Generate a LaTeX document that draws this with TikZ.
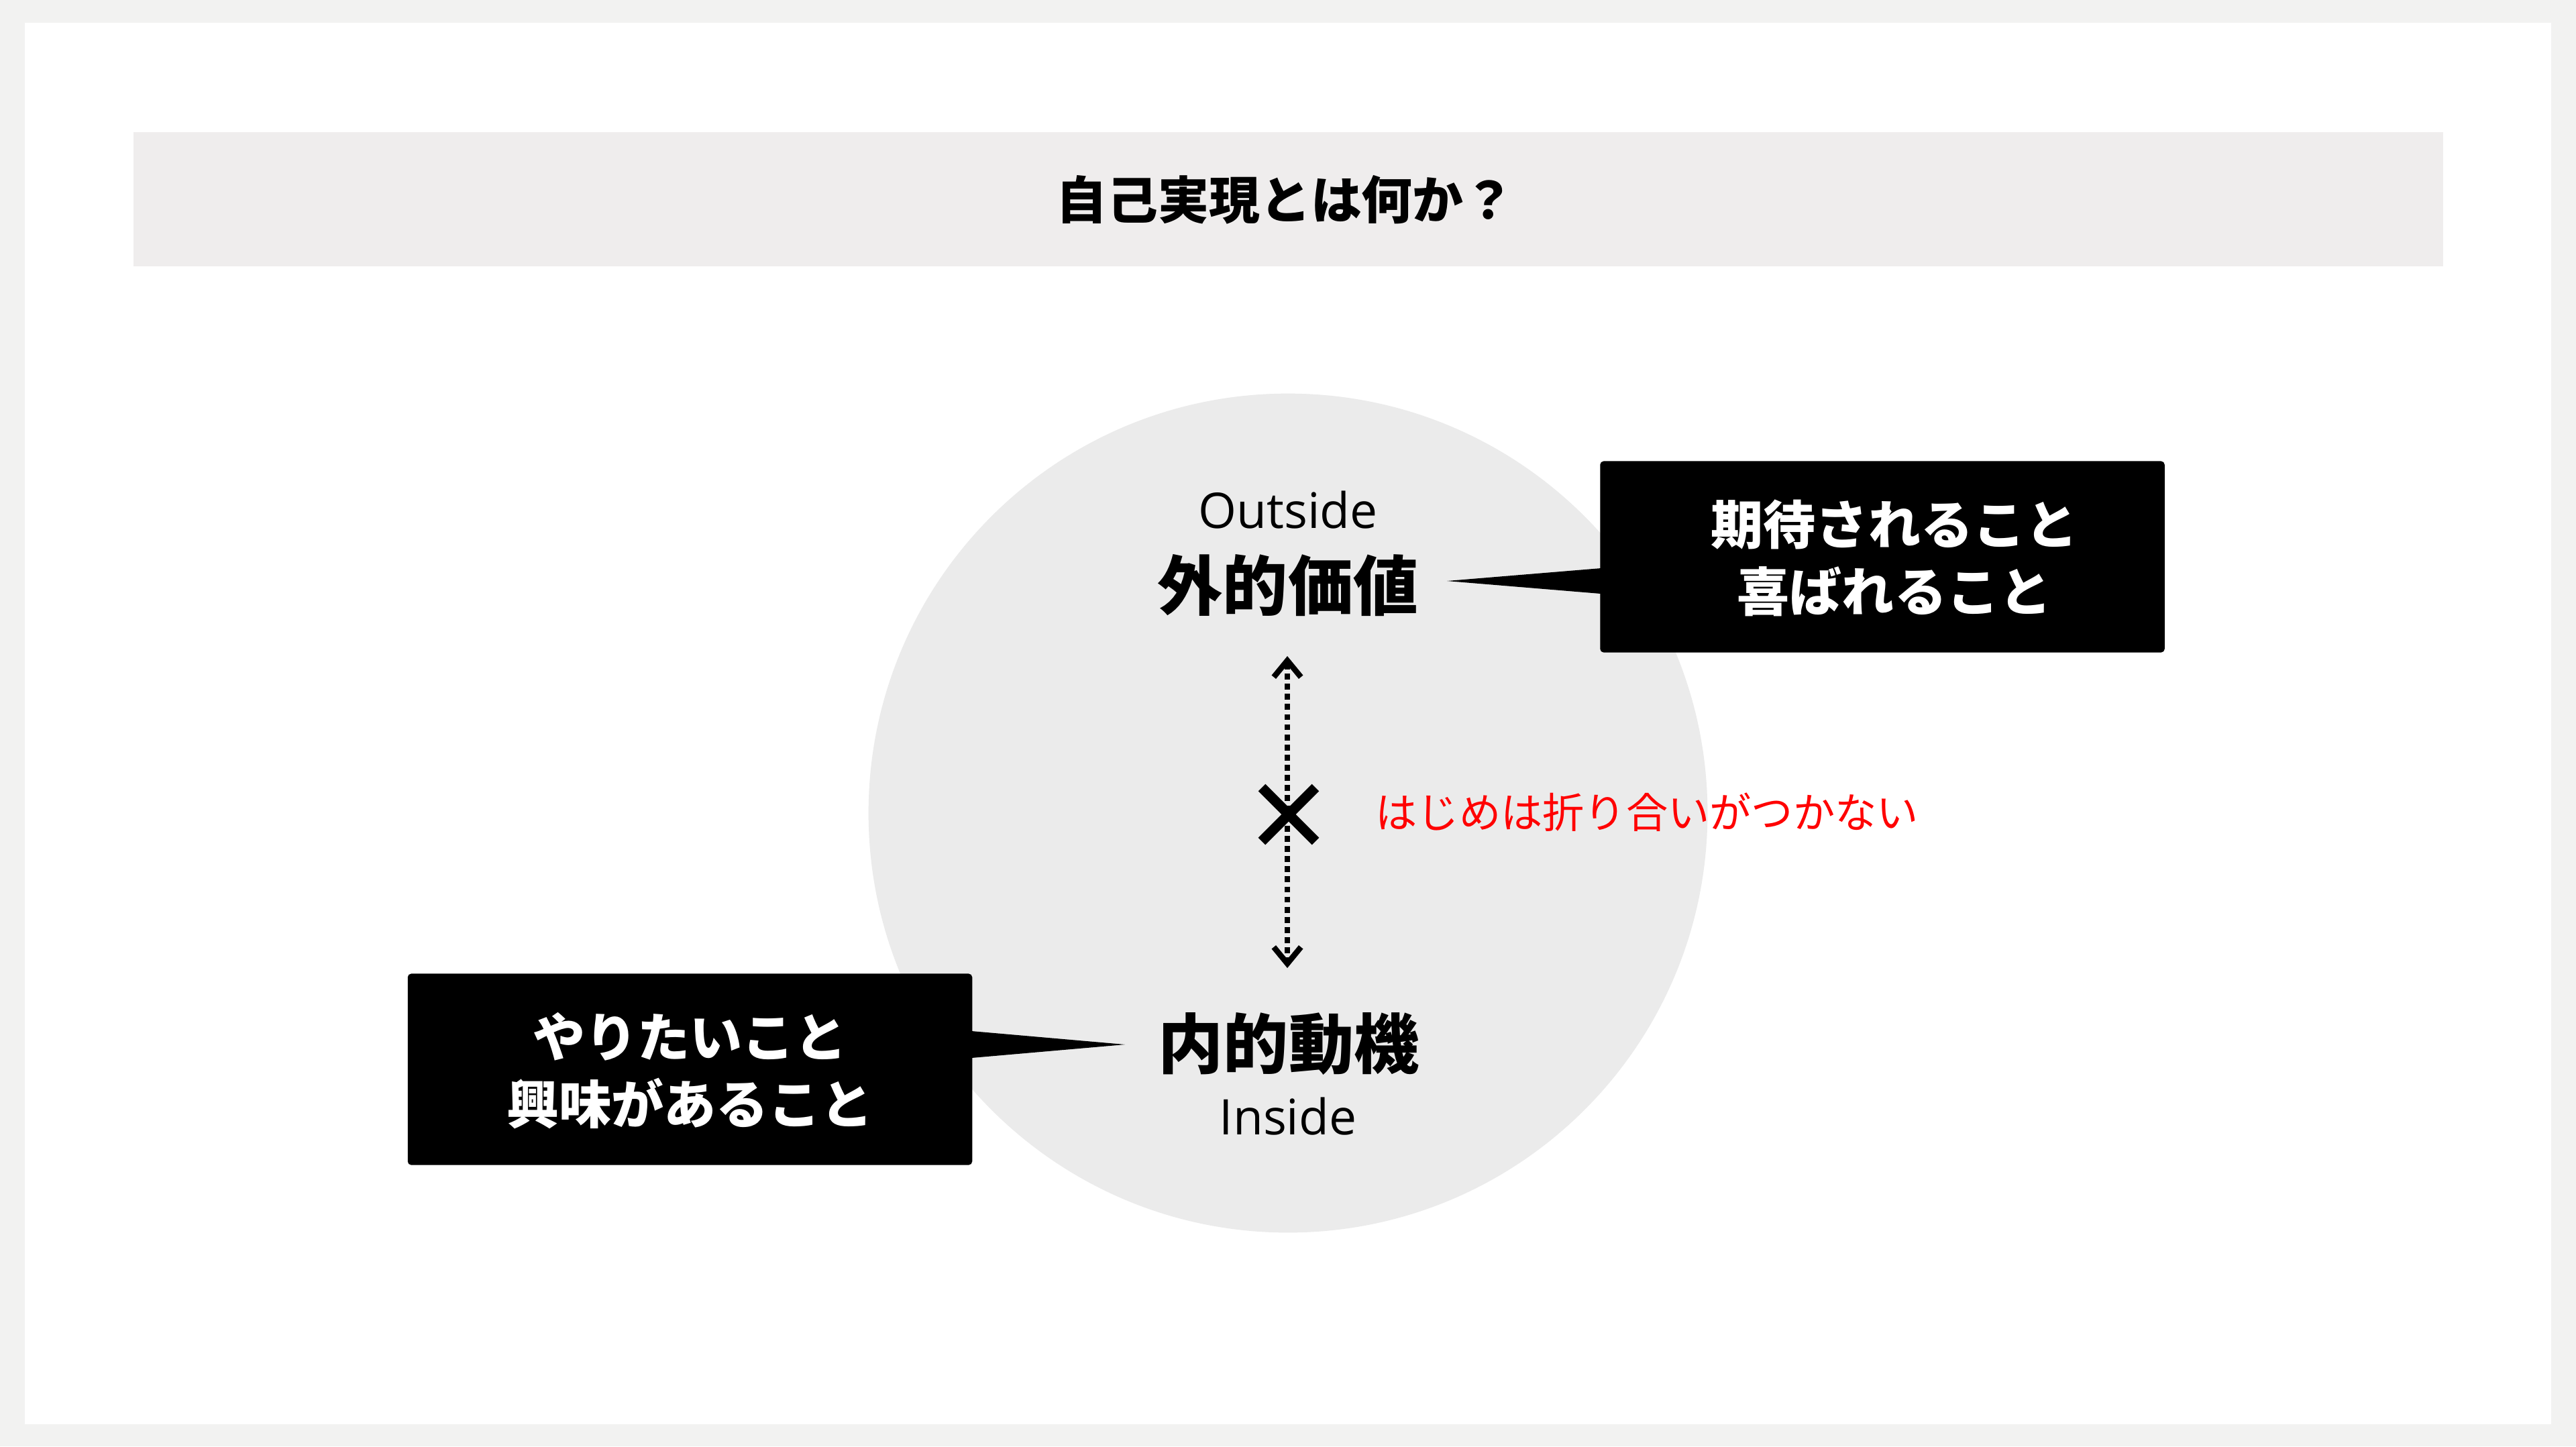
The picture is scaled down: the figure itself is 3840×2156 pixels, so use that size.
\documentclass[tikz,border=0pt]{standalone}
\usepackage{fontspec}
\setmainfont{Noto Sans CJK JP}
\newfontfamily\latinfont{Open Sans}
\usetikzlibrary{arrows.meta}
\definecolor{outerbg}{HTML}{F2F2F1}
\definecolor{titlebg}{HTML}{EFEDED}
\definecolor{circlebg}{HTML}{EBEBEB}
\definecolor{redtext}{HTML}{FF0000}
\begin{document}
\begin{tikzpicture}[x=0.01cm,y=-0.01cm,
  callout/.style={fill=black, rounded corners=1.5pt, inner sep=0pt, minimum width=8.41cm, minimum height=2.85cm},
  callouttext/.style={text=white, font=\bfseries\fontsize{22.2}{28.5}\selectfont, align=center, inner sep=0pt},
  mainlabel/.style={font=\bfseries\fontsize{27.6}{32}\selectfont, inner sep=0pt},
  sublabel/.style={font=\latinfont\fontsize{20.8}{24}\selectfont, inner sep=0pt},
  conflict/.style={line width=2.4pt, dash pattern=on 2.5pt off 1.8pt, {Straight Barb[length=7pt,width=11.5pt]}-{Straight Barb[length=7pt,width=11.5pt]}},
  crossline/.style={line width=4.27pt}
]
\useasboundingbox (0,0) rectangle (3840,2156);
\fill[outerbg] (0,0) rectangle (3840,2156);
\fill[white] (37,34) rectangle (3803,2123);
\node[fill=titlebg, minimum width=34.41cm, minimum height=2cm, inner sep=0pt] (titlebar) at (1920.5,297) {};
\node[font=\bfseries\fontsize{21.6}{26}\selectfont, inner sep=0pt] (title) at (1916,298) {自己実現とは何か？};
\fill[circlebg] (1920,1212) circle[radius=6.25cm];
\node[sublabel] (outside) at (1920,760) {Outside};
\node[mainlabel] (outer) at (1920,873) {外的価値};
\node[mainlabel] (inner) at (1921,1556) {内的動機};
\node[sublabel] (inside) at (1920,1664) {Inside};
\node[callout] (expect) at (2806,830) {};
\node[callouttext] (expecttext) at (2824,832) {期待されること\\喜ばれること};
\node[callout] (want) at (1028.5,1594) {};
\node[callouttext] (wanttext) at (1028.5,1596) {やりたいこと\\興味があること};
\coordinate (ptipA) at (2157,866);
\fill (ptipA) -- ([xshift=0.02cm,yshift=-0.17cm]expect.west) -- ([xshift=0.02cm,yshift=-0.55cm]expect.west) -- cycle;
\coordinate (ptipB) at (1677,1557);
\fill (ptipB) -- ([xshift=-0.02cm,yshift=0.57cm]want.east) -- ([xshift=-0.02cm,yshift=0.17cm]want.east) -- cycle;
\coordinate (atop) at (1919,978);
\coordinate (abot) at (1919,1443);
\draw[conflict] (atop) -- (abot);
\coordinate (cross) at (1921,1214);
\draw[crossline] ([shift={(-40,-40)}]cross) -- ([shift={(40,40)}]cross);
\draw[crossline] ([shift={(40,-40)}]cross) -- ([shift={(-40,40)}]cross);
\node[font=\fontsize{17.7}{21}\selectfont, text=redtext, inner sep=0pt, anchor=west] (note) at (2050,1211) {はじめは折り合いがつかない};
\end{tikzpicture}
\end{document}
